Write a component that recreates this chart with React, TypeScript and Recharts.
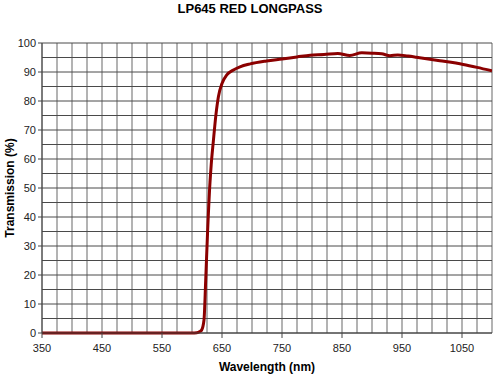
import React from "react";
import {
  LineChart,
  Line,
  XAxis,
  YAxis,
  CartesianGrid,
  Label,
} from "recharts";

const wavelengths = [
  350, 450, 550, 600, 608, 613, 616, 620, 622.8, 626, 630, 632, 635.5, 640, 644,
  650, 658, 669, 680, 697, 724, 750, 775, 797, 820, 843, 863, 883, 900, 916,
  930, 943, 960, 974, 1013, 1052, 1075, 1100,
];
const transmission = [
  0, 0, 0, 0, 0.1, 0.5, 1.0, 4.5, 18, 35, 52, 58, 66, 75.5, 81.5, 86, 89, 90.7,
  91.8, 92.8, 93.8, 94.5, 95.2, 95.8, 96, 96.4, 95.7, 96.6, 96.5, 96.3, 95.6,
  95.9, 95.5, 95.1, 93.9, 92.6, 91.6, 90.4,
];

// labelled ticks
const xLabels = [350, 450, 550, 650, 750, 850, 950, 1050];
const yLabels = [0, 10, 20, 30, 40, 50, 60, 70, 80, 90, 100];
// grid steps
const xGrid = Array.from({ length: 31 }, (_, i) => 350 + i * 25);
const yGrid = Array.from({ length: 21 }, (_, i) => i * 5);

const data = wavelengths.map((w, i) => ({ w, t: transmission[i] }));

const font = "Arial, 'Liberation Sans', sans-serif";

const XTick = (props: any) => {
  const { x, y, payload } = props;
  if (!xLabels.includes(payload.value)) return <g />;
  return (
    <g>
      <line x1={x} x2={x} y1={y} y2={y + 5} stroke="#444" />
      <text x={x} y={y + 19} textAnchor="middle" fontSize={11} fill="#222" fontFamily={font}>
        {payload.value}
      </text>
    </g>
  );
};

const YTick = (props: any) => {
  const { x, y, payload } = props;
  if (!yLabels.includes(payload.value)) return <g />;
  return (
    <g>
      <line x1={x - 4} x2={x} y1={y} y2={y} stroke="#444" />
      <text x={x - 6} y={y + 4} textAnchor="end" fontSize={11} fill="#222" fontFamily={font}>
        {payload.value}
      </text>
    </g>
  );
};

export default function App() {
  return (
    <div
      style={{
        position: "absolute",
        left: 0,
        top: 0,
        width: 500,
        height: 375,
        background: "#fff",
        fontFamily: font,
      }}
    >
      <div
        style={{
          position: "absolute",
          top: 1,
          left: 0,
          width: 500,
          textAlign: "center",
          fontWeight: "bold",
          fontSize: 13,
          color: "#000",
        }}
      >
        LP645 RED LONGPASS
      </div>
      <LineChart
        width={500}
        height={375}
        data={data}
        margin={{ top: 43, right: 8, bottom: 12, left: 0 }}
      >
        <CartesianGrid horizontal={false} stroke="#9a9a9a" strokeWidth={1.5} />
        <CartesianGrid vertical={false} stroke="#4a4a4a" strokeWidth={1} />
        <XAxis
          dataKey="w"
          type="number"
          domain={[350, 1100]}
          ticks={xGrid}
          interval={0}
          height={30}
          tick={<XTick />}
          tickLine={false}
          tickSize={0}
          tickMargin={0}
          axisLine={{ stroke: "#444" }}
          allowDataOverflow
        >
          <Label
            value="Wavelength (nm)"
            position="insideBottom"
            offset={-8}
            style={{ fontWeight: "bold", fontSize: 12, fill: "#000", fontFamily: font }}
          />
        </XAxis>
        <YAxis
          type="number"
          domain={[0, 100]}
          ticks={yGrid}
          interval={0}
          width={42}
          tick={<YTick />}
          tickLine={false}
          tickSize={0}
          tickMargin={0}
          axisLine={{ stroke: "#444" }}
        >
          <Label
            value="Transmission (%)"
            angle={-90}
            position="insideLeft"
            offset={10}
            style={{
              textAnchor: "middle",
              fontWeight: "bold",
              fontSize: 12,
              fill: "#000",
              fontFamily: font,
            }}
          />
        </YAxis>
        <Line
          type="monotone"
          dataKey="t"
          stroke="#8b0000"
          strokeWidth={3}
          dot={false}
          isAnimationActive={false}
        />
      </LineChart>
    </div>
  );
}
